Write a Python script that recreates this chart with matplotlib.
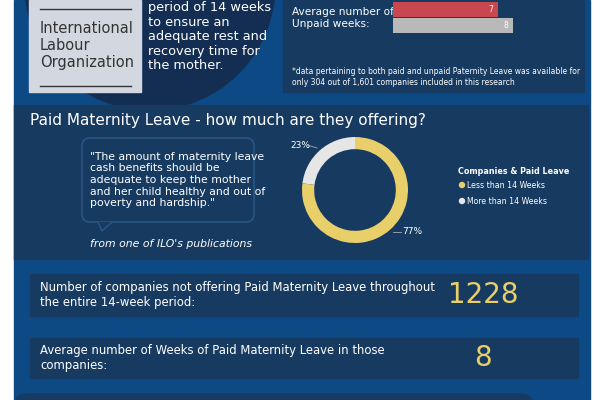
import matplotlib
matplotlib.use("Agg")
import matplotlib.pyplot as plt
from matplotlib.patches import Rectangle, FancyBboxPatch, Circle, Polygon

# data
bar_labels = ["Paid", "Unpaid"]
bar_values = [7, 8]
donut_labels = ["More than 14 Weeks", "Less than 14 Weeks"]
donut_values = [23, 77]
stat_texts = ["Number of companies not offering Paid Maternity Leave throughout\nthe entire 14-week period:",
              "Average number of Weeks of Paid Maternity Leave in those\ncompanies:"]
stat_values = ["1228", "8"]

FONT = "DejaVu Sans"
W, H = 600, 400
BLUE = "#0d4a85"; DARK = "#173a61"; NAVY = "#132e52"
YEL = "#e8cf6a"; GREY = "#e6e6e6"; RED = "#c9474f"; BGREY = "#b9b9b9"

fig = plt.figure(figsize=(6, 4), dpi=100)
fig.patch.set_facecolor("white")
ax = fig.add_axes([0, 0, 1, 1])
ax.set_xlim(0, W); ax.set_ylim(H, 0); ax.axis("off")

ax.add_patch(Rectangle((14, 0), 576, 400, color=BLUE, zorder=0))
ax.add_patch(Circle((150, -15), 125, color=NAVY, zorder=1))
ax.add_patch(Rectangle((29, 0), 112, 92, color="#d3d8e0", zorder=2))
for y in (9, 86):
    ax.plot([40, 131], [y, y], color="#333", lw=1, zorder=3)
ax.text(40, 21, "International\nLabour\nOrganization", color="#333", fontsize=10.5,
        va="top", ha="left", linespacing=1.15, zorder=3, family=FONT)
ax.text(148, 1, "period of 14 weeks\nto ensure an\nadequate rest and\nrecovery time for\nthe mother.",
        color="white", fontsize=9.3, va="top", ha="left", linespacing=1.15, zorder=3, family=FONT)

ax.add_patch(Rectangle((283, 0), 301, 92, color=DARK, zorder=1))
ax.text(292, 18, "Average number of\nUnpaid weeks:", color="white", fontsize=7.6,
        va="center", ha="left", linespacing=1.25, zorder=3, family=FONT)
ax.text(292, 77, "*data pertaining to both paid and unpaid Paternity Leave was available for\nonly 304 out of 1,601 companies included in this research",
        color="white", fontsize=5.5, va="center", ha="left", linespacing=1.4, zorder=3, family=FONT)

bax = fig.add_axes([393 / W, 1 - 33 / H, 180 / W, 31 / H])
bax.set_xlim(0, 12); bax.set_ylim(1.5, -0.5); bax.axis("off")
bax.barh(range(len(bar_values)), bar_values, height=0.95, color=[RED, BGREY])
for i, v in enumerate(bar_values):
    bax.text(v - 0.5, i, str(v), color="white", fontsize=5.5, va="center", ha="center")

ax.add_patch(Rectangle((14, 105), 574, 154, color=DARK, zorder=1))
ax.text(30, 121, "Paid Maternity Leave - how much are they offering?", color="white",
        fontsize=11, va="center", ha="left", zorder=3, family=FONT)
ax.add_patch(FancyBboxPatch((82, 138), 172, 84, boxstyle="round,pad=0,rounding_size=8",
                            fc="none", ec="#2d5a8a", lw=1, zorder=2))
ax.add_patch(Polygon([[98, 222], [102, 231], [112, 222]], closed=False, fc=DARK, ec="#2d5a8a", lw=1, zorder=2))
ax.text(90, 180, "\"The amount of maternity leave\ncash benefits should be\nadequate to keep the mother\nand her child healthy and out of\npoverty and hardship.\"",
        color="white", fontsize=7.8, va="center", ha="left", linespacing=1.2, zorder=3, family=FONT)
ax.text(90, 244, "from one of ILO's publications", color="white", fontsize=7.8, style="italic",
        va="center", ha="left", zorder=3, family=FONT)

dax = fig.add_axes([(355 - 53) / W, 1 - (190 + 53) / H, 106 / W, 106 / H])
dax.pie(donut_values, colors=[GREY, YEL], startangle=90, counterclock=True,
        wedgeprops=dict(width=0.23, linewidth=0), radius=1)
dax.set_xlim(-1, 1); dax.set_ylim(-1, 1)
ax.text(290, 145, f"{donut_values[0]}%", color="white", fontsize=6.5, va="center", ha="left", zorder=3, family=FONT)
ax.plot([307, 317], [145, 148], color="#aaa", lw=0.6, zorder=3)
ax.text(402, 232, f"{donut_values[1]}%", color="white", fontsize=6.5, va="center", ha="left", zorder=3, family=FONT)
ax.plot([393, 401], [232, 232], color="#aaa", lw=0.6, zorder=3)
ax.text(458, 172, "Companies & Paid Leave", color="white", fontsize=5.8, fontweight="bold",
        va="center", ha="left", zorder=3, family=FONT)
for y, c, t in [(185, YEL, donut_labels[1]), (201, GREY, donut_labels[0])]:
    ax.add_patch(Circle((462, y), 2.5, color=c, zorder=3))
    ax.text(467, y, t, color="white", fontsize=5.6, va="center", ha="left", zorder=3, family=FONT)

for (y0, y1), t, v in zip([(274, 316), (338, 378)], stat_texts, stat_values):
    ax.add_patch(Rectangle((30, y0), 548, y1 - y0, color=DARK, zorder=1))
    ax.text(40, (y0 + y1) / 2, t, color="white", fontsize=8.4, va="center", ha="left",
            linespacing=1.2, zorder=3, family=FONT)
    ax.text(483, (y0 + y1) / 2, v, color=YEL, fontsize=20, va="center", ha="center", zorder=3, family=FONT)

ax.add_patch(FancyBboxPatch((14, 394), 520, 30, boxstyle="round,pad=0,rounding_size=14",
                            color=DARK, zorder=1))
fig.savefig("out.png", dpi=100, facecolor="white")
